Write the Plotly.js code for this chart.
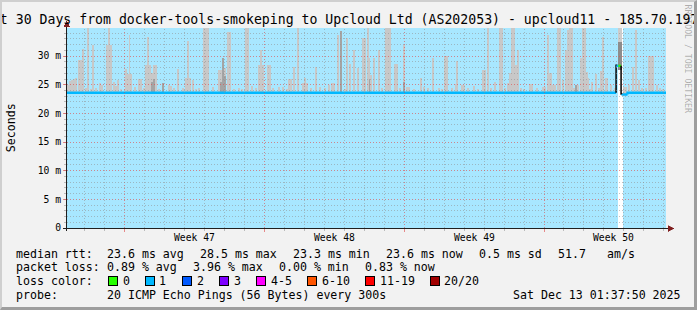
<!DOCTYPE html>
<html><head><meta charset="utf-8">
<script src="https://cdn.plot.ly/plotly-3.0.1.min.js"></script>
<style>
html,body{margin:0;padding:0;background:#f2f2f2;}
#wrap{position:relative;width:697px;height:310px;overflow:hidden;}
#chart{position:absolute;left:0;top:0;width:697px;height:310px;}
#chart .shapelayer path{shape-rendering:crispEdges;}
#frame{position:absolute;left:0;top:0;width:697px;height:310px;box-sizing:border-box;border-left:2px solid #cfcfcf;border-top:2px solid #cfcfcf;border-right:3px solid #9e9e9e;border-bottom:3px solid #9e9e9e;pointer-events:none;}
</style></head>
<body><div id="wrap"><div id="chart"></div><div id="frame"></div></div>
<script>
// ---------------- data ----------------
const titleText = 'Last 30 Days from docker-tools-smokeping to Upcloud Ltd (AS202053) - upcloud11 - 185.70.197';
const windowStart = '2025-11-13T02:37:50Z';
const windowDays = 30;
const weekStarts = ['2025-11-16', '2025-11-23', '2025-11-30', '2025-12-07'];
const weekLabels = ['Week 47', 'Week 48', 'Week 49', 'Week 50'];
const yTickVals = [0, 5, 10, 15, 20, 25, 30];
const yTickText = ['0', '5 m', '10 m', '15 m', '20 m', '25 m', '30 m'];
const yMaxMs = 34.9;

// smoke (ping spread) samples: day offset from window start, top of smoke in ms
const smokeDay = [
  0.05,0.15,0.25,0.35,0.45,0.60,0.70,0.78,1.07,1.32,
  1.65,1.75,2.00,2.09,2.18,2.35,2.45,2.55,2.93,3.05,
  3.13,3.23,3.63,3.73,3.98,4.07,4.15,4.25,4.35,4.45,
  4.82,5.10,5.20,5.57,5.98,6.07,6.18,6.30,6.60,6.88,
  6.98,7.08,7.60,7.70,7.80,7.90,8.08,8.18,8.35,8.98,
  9.08,9.25,9.63,9.70,9.80,10.08,10.18,10.80,11.13,11.23,
  11.35,11.57,11.83,11.93,12.03,12.45,12.68,13.10,13.28,13.38,
  13.57,13.74,14.00,14.15,14.37,14.57,14.83,14.93,15.07,15.15,
  15.25,15.40,15.65,15.98,16.08,16.18,16.43,16.53,16.88,17.03,
  17.13,17.74,18.32,18.63,18.95,19.05,19.48,19.55,19.78,19.88,
  20.38,20.83,20.93,21.07,21.45,21.70,21.80,22.07,22.20,22.30,
  22.40,22.50,22.58,22.74,23.20,23.30,23.85,23.95,24.07,24.15,
  24.25,24.35,24.45,24.58,24.68,24.85,24.98,25.07,25.20,25.30,
  25.50,25.60,25.73,25.83,25.93,26.03,26.10,26.30,26.50,26.63,
  26.73,26.85,26.98,27.05,27.25,27.43,27.88,27.98,28.13,28.35,
  28.52,28.63,29.15,29.25,29.35,29.53,29.70,
  // low ripples just above the median
  0.95,1.20,1.45,2.70,3.40,3.85,4.60,5.35,5.80,6.45,
  7.30,8.60,8.75,9.45,10.30,10.60,11.00,12.20,12.90,13.90,
  15.80,16.70,17.40,17.90,18.10,18.80,19.30,20.10,20.60,21.25,
  21.95,22.90,23.55,25.40,26.20,28.80,29.00,29.85
];
const smokeHi = [
  24.9,25.6,25.8,26.0,26.2,29.3,29.3,31.3,34.9,31.9,
  25.3,25.0,32.0,34.9,32.0,25.5,24.8,25.8,27.8,26.8,
  33.6,26.8,26.0,26.0,28.5,33.3,28.5,27.0,28.4,28.4,
  25.3,25.0,24.8,27.8,26.2,32.6,26.2,25.8,24.5,34.9,
  34.9,34.9,27.5,27.5,29.6,28.0,34.2,34.2,24.3,34.9,
  34.9,24.8,28.5,31.1,28.5,28.4,28.4,24.6,26.0,26.0,
  28.1,34.9,25.3,26.2,25.3,28.1,24.6,25.0,25.3,25.3,
  33.7,34.3,33.1,28.7,31.1,27.9,33.1,33.1,34.9,29.6,
  26.7,29.6,31.1,34.9,34.9,34.9,28.7,28.7,31.9,24.6,
  24.6,26.2,29.6,24.4,30.1,30.1,25.1,29.1,25.0,25.0,
  24.8,27.5,27.5,34.9,25.5,34.9,34.9,25.3,27.0,34.9,
  34.9,28.4,31.1,24.5,25.1,25.1,24.6,24.6,33.6,27.0,
  27.0,25.0,25.0,34.9,34.9,25.8,31.0,34.5,34.9,34.9,
  25.0,25.0,29.6,34.9,34.9,27.3,26.2,25.5,26.8,24.5,
  27.4,33.4,26.2,26.2,25.0,24.4,24.6,24.6,25.0,28.1,
  34.5,25.8,30.1,30.1,30.1,25.0,24.4,
  24.4,24.3,24.5,24.3,24.6,24.4,24.3,24.5,24.4,24.3,
  24.6,24.4,24.3,24.5,24.4,24.6,24.3,24.4,24.5,24.3,
  24.4,24.5,24.3,24.6,24.4,24.3,24.5,24.4,24.3,24.5,
  24.4,24.3,24.5,24.4,24.3,24.5,24.4,24.3
];
// denser (middle) part of the smoke
const darkDay = [4.25, 4.35, 4.82, 7.70, 7.80, 7.90, 13.74, 15.15, 16.88, 25.50];
const darkHi  = [25.5, 26.0, 25.3, 25.5, 29.6, 26.5, 34.3, 26.0, 25.5, 25.0];
// smoke inside the no-loss-data gap
const gapSmokeDay  = [27.65, 27.75];
const gapSmokeLo   = [27.5, 27.5];
const gapSmokeHi   = [34.9, 34.9];
const gapSmokeDark = [32.5, 32.5];

// median rtt steps: start day, value (ms), loss class index (-1 = unknown)
const medDay  = [0, 27.50, 27.565, 27.615, 27.75, 27.83, 28.07];
const medMs   = [23.6, 28.4, 28.3, 28.3, 23.4, 23.3, 23.6];
const medLoss = [1, -1, 1, 0, -1, 1, 1];

// loss background spans
const lossSpanStart = [0, 27.83];
const lossSpanEnd   = [27.60, 30];
const lossSpanClass = [1, 1];

// statistics
const medianStats = ['23.6', '28.5', '23.3', '23.6']; // avg, max, min, now
const sdStat = '0.5';
const amsStat = '51.7';
const lossStats = ['0.89', '3.96', '0.00', '0.83'];     // avg, max, min, now
const lossLabels = ['0', '1', '2', '3', '4-5', '6-10', '11-19', '20/20'];
const probeText = '20 ICMP Echo Pings (56 Bytes) every 300s';
const stampText = 'Sat Dec 13 01:37:50 2025';
const watermark = 'RRDTOOL / TOBI OETIKER';

// ---------------- styles ----------------
const lossColors = ['#26ff00', '#00b8ff', '#0059ff', '#7e00ff', '#ff00ff', '#ff5500', '#ff0000', '#a10000'];
const MONO = 'DejaVu Sans Mono, monospace';
const ML = 67, MT = 28, PW = 599, PH = 200, W = 697, H = 310;
const X = px => (px - ML) / PW;
const Y = py => 1 - (py - MT) / PH;
const DAY = 864e5;
const startMs = Date.parse(windowStart);
const endMs = startMs + windowDays * DAY;
const dms = d => startMs + d * DAY;
const dstr = ms => new Date(ms).toISOString().replace('T', ' ').slice(0, 19);
const colorOf = c => c < 0 ? '#000000' : lossColors[c];
function rgba(hex, a) {
  const n = parseInt(hex.slice(1), 16);
  return `rgba(${(n >> 16) & 255},${(n >> 8) & 255},${n & 255},${a})`;
}
const minRtt = parseFloat(medianStats[2]);
const barW = 0.1 * DAY;

const traces = [];
// loss background
traces.push({
  type: 'bar',
  x: lossSpanStart.map((s, i) => dstr((dms(s) + dms(lossSpanEnd[i])) / 2)),
  y: lossSpanStart.map(() => yMaxMs),
  base: lossSpanStart.map(() => 0),
  width: lossSpanStart.map((s, i) => dms(lossSpanEnd[i]) - dms(s)),
  marker: {color: lossSpanClass.map(c => rgba(colorOf(c), 0.34)), line: {width: 0}},
  hoverinfo: 'skip'
});
// light smoke
traces.push({
  type: 'bar',
  x: smokeDay.map(d => dstr(dms(d))),
  y: smokeHi.map(v => v - minRtt),
  base: smokeDay.map(() => minRtt),
  width: smokeDay.map(() => barW),
  marker: {color: '#c8c8c8', line: {width: 0}},
  hoverinfo: 'skip'
});
traces.push({
  type: 'bar',
  x: gapSmokeDay.map(d => dstr(dms(d))),
  y: gapSmokeHi.map((v, i) => v - gapSmokeLo[i]),
  base: gapSmokeLo,
  width: gapSmokeDay.map(() => barW),
  marker: {color: '#cccccc', line: {width: 0}},
  hoverinfo: 'skip'
});
// dense smoke
traces.push({
  type: 'bar',
  x: darkDay.map(d => dstr(dms(d))),
  y: darkHi.map(v => v - minRtt),
  base: darkDay.map(() => minRtt),
  width: darkDay.map(() => barW),
  marker: {color: '#a4a4a4', line: {width: 0}},
  hoverinfo: 'skip'
});
traces.push({
  type: 'bar',
  x: gapSmokeDay.map(d => dstr(dms(d))),
  y: gapSmokeDark.map((v, i) => v - gapSmokeLo[i]),
  base: gapSmokeLo,
  width: gapSmokeDay.map(() => barW),
  marker: {color: '#8c8c8c', line: {width: 0}},
  hoverinfo: 'skip'
});
// median line, coloured by loss
for (let i = 0; i < medDay.length; i++) {
  const d0 = medDay[i], d1 = i + 1 < medDay.length ? medDay[i + 1] : windowDays;
  const prev = i > 0 ? medMs[i - 1] : medMs[i];
  traces.push({
    type: 'scatter', mode: 'lines',
    x: [dstr(dms(d0)), dstr(dms(d0)), dstr(dms(d1))],
    y: [prev, medMs[i], medMs[i]],
    line: {color: colorOf(medLoss[i]), width: medLoss[i] < 0 ? 1.5 : 2.3},
    hoverinfo: 'skip'
  });
}

// ---------------- grid drawn over the graph (rrdtool style) ----------------
const MGRID = 'rgba(222,80,80,0.65)', GRID = 'rgba(143,143,143,0.55)';
const shapes = [];
const week0 = Date.parse(weekStarts[0] + 'T00:00:00Z');
for (let t = week0 - 7 * DAY; t < endMs; t += DAY) {
  if (t <= startMs) continue;
  const major = Math.round((t - week0) / DAY) % 7 === 0;
  shapes.push({type: 'line', xref: 'x', yref: 'paper', x0: dstr(t), x1: dstr(t), y0: 0, y1: 1,
    line: {color: major ? MGRID : GRID, width: 1, dash: '1px,2px'}, layer: 'above'});
}
for (let v = 1; v < yMaxMs; v++) {
  const major = v % 5 === 0;
  shapes.push({type: 'line', xref: 'paper', yref: 'y', x0: 0, x1: 1, y0: v, y1: v,
    line: {color: major ? MGRID : GRID, width: 1, dash: '1px,2px'}, layer: 'above'});
}

// ---------------- annotations ----------------
function txt(px, py, text, size, opts) {
  return Object.assign({
    xref: 'paper', yref: 'paper', x: X(px), y: Y(py), text: text,
    showarrow: false, xanchor: 'left', yanchor: 'middle',
    borderpad: 0, borderwidth: 0,
    font: {family: MONO, size: size, color: '#000000'}
  }, opts || {});
}
const ann = [];
ann.push(txt(-24.2, 20, titleText, 13.2));
ann.push(txt(10.7, 127.5, 'Seconds', 11.6, {textangle: -90, xanchor: 'center'}));
ann.push(txt(687.5, 59, watermark, 8.2, {textangle: 90, xanchor: 'center', font: {family: MONO, size: 8.2, color: 'rgba(0,0,0,0.3)'}}));
weekStarts.forEach((w, i) => {
  ann.push({xref: 'x', yref: 'paper', x: dstr(Date.parse(w + 'T00:00:00Z') + 3.5 * DAY), y: Y(237.5),
    text: weekLabels[i], showarrow: false, xanchor: 'center', yanchor: 'middle', borderpad: 0, borderwidth: 0,
    font: {family: MONO, size: 9.7, color: '#000000'}});
});
const L1 = 253.5, L2 = 267.3, L3 = 281.2, L4 = 295;
ann.push(txt(16, L1, 'median rtt:', 11.6));
ann.push(txt(107.3, L1, medianStats[0] + ' ms avg', 11.6));
ann.push(txt(200, L1, medianStats[1] + ' ms max', 11.6));
ann.push(txt(293.3, L1, medianStats[2] + ' ms min', 11.6));
ann.push(txt(386, L1, medianStats[3] + ' ms now', 11.6));
ann.push(txt(479, L1, sdStat + ' ms sd', 11.6));
ann.push(txt(558.3, L1, amsStat, 11.6));
ann.push(txt(607.3, L1, 'am/s', 11.6));
ann.push(txt(16, L2, 'packet loss:', 11.6));
ann.push(txt(107.3, L2, lossStats[0] + ' % avg', 11.6));
ann.push(txt(193.3, L2, lossStats[1] + ' % max', 11.6));
ann.push(txt(279.3, L2, lossStats[2] + ' % min', 11.6));
ann.push(txt(365.3, L2, lossStats[3] + ' % now', 11.6));
ann.push(txt(16, L3, 'loss color:', 11.6));
const boxX = [108.3, 145, 182.3, 219.3, 256.7, 307.3, 365.7, 430];
lossLabels.forEach((lab, i) => {
  ann.push(txt(boxX[i] + 14.4, L3, lab, 11.6));
  shapes.push({type: 'rect', xref: 'paper', yref: 'paper', x0: X(boxX[i]), x1: X(boxX[i] + 9),
    y0: Y(285.5), y1: Y(276.5), fillcolor: lossColors[i], line: {color: '#000000', width: 1}, layer: 'above'});
});
ann.push(txt(16, L4, 'probe:', 11.6));
ann.push(txt(107.3, L4, probeText, 11.6));
ann.push(txt(513.3, L4, stampText, 11.6));

// axes lines and arrows
shapes.push({type: 'line', xref: 'paper', yref: 'paper', x0: X(63), x1: X(669), y0: Y(228.5), y1: Y(228.5), line: {color: '#1f1f1f', width: 1}, layer: 'above'});
shapes.push({type: 'line', xref: 'paper', yref: 'paper', x0: X(66.5), x1: X(66.5), y0: Y(231), y1: Y(25), line: {color: '#1f1f1f', width: 1}, layer: 'above'});
shapes.push({type: 'path', xref: 'paper', yref: 'paper',
  path: `M${X(66.8)},${Y(20.5)} L${X(63.8)},${Y(26.5)} L${X(69.8)},${Y(26.5)} Z`,
  fillcolor: '#802020', line: {color: '#802020', width: 0.5}, layer: 'above'});
shapes.push({type: 'path', xref: 'paper', yref: 'paper',
  path: `M${X(674)},${Y(228.5)} L${X(668)},${Y(225.5)} L${X(668)},${Y(231.5)} Z`,
  fillcolor: '#802020', line: {color: '#802020', width: 0.5}, layer: 'above'});

const layout = {
  width: W, height: H,
  margin: {l: ML, r: W - ML - PW, t: MT, b: H - MT - PH, pad: 0},
  paper_bgcolor: '#f2f2f2', plot_bgcolor: '#ffffff',
  showlegend: false, hovermode: false, barmode: 'overlay', bargap: 0,
  xaxis: {
    type: 'date', range: [dstr(startMs), dstr(endMs)],
    tick0: weekStarts[0], dtick: 7 * DAY, showticklabels: false, showgrid: false,
    ticks: 'outside', ticklen: 3, tickcolor: MGRID,
    showline: false, zeroline: false, fixedrange: true,
    minor: {tickmode: 'linear', tick0: weekStarts[0], dtick: DAY, showgrid: false,
      ticks: 'outside', ticklen: 2, tickcolor: GRID}
  },
  yaxis: {
    range: [0, yMaxMs], tickmode: 'array', tickvals: yTickVals, ticktext: yTickText, showgrid: false,
    ticks: 'outside', ticklen: 3, tickcolor: MGRID,
    tickfont: {family: MONO, size: 9.7, color: '#000000'},
    showline: false, zeroline: false, fixedrange: true,
    minor: {tickmode: 'linear', tick0: 0, dtick: 1, showgrid: false,
      ticks: 'outside', ticklen: 2, tickcolor: GRID}
  },
  annotations: ann,
  shapes: shapes
};
Plotly.newPlot('chart', traces, layout, {staticPlot: true, displayModeBar: false});
</script>
</body></html>
